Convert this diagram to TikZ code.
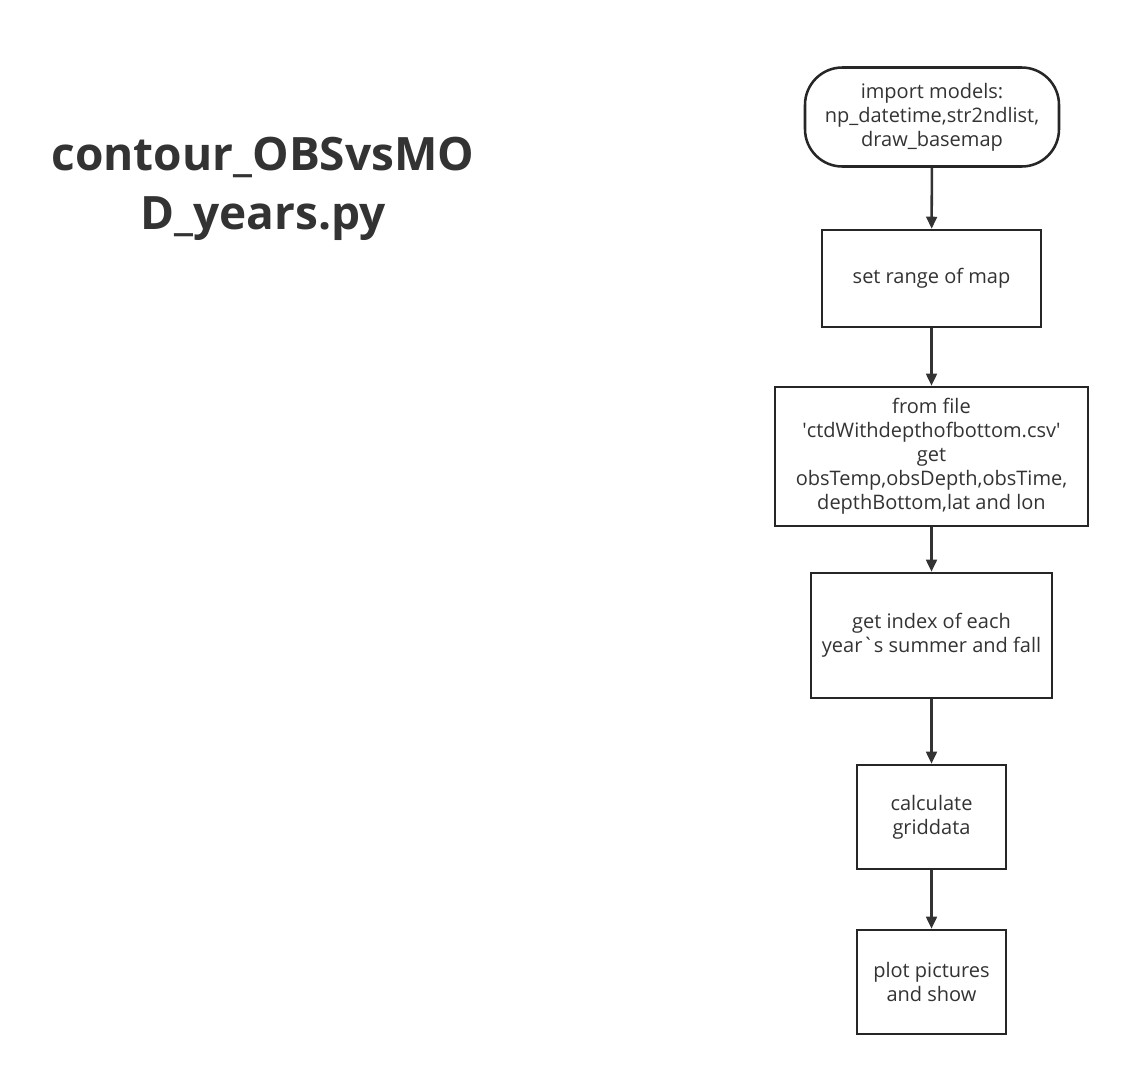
\documentclass[tikz,border=0pt]{standalone}
\usepackage{fontspec}
\setmainfont{Open Sans}
\usetikzlibrary{arrows.meta}
\begin{document}
\begin{tikzpicture}[x=0.75pt,y=-0.75pt,
  box/.style={draw=black!85,line width=1.9pt,align=center,inner sep=0pt,font=\fontsize{15}{18}\selectfont,text=black!80},
  conn/.style={draw=black!80,line width=1.9pt,-{Triangle[length=9pt,width=8pt]}}]
\useasboundingbox[fill=white] (0,0) rectangle (1125,1072);
\node[align=center,font=\fontsize{34.5}{44}\selectfont\bfseries,text=black!80] (title) at (263,189) {contour\_OBSvsMO\\D\_years.py};
\node[box,rounded corners=28pt,minimum width=190.5pt,minimum height=74.25pt] (n1) at (932,117) {import models:\\np\_datetime,str2ndlist,\\draw\_basemap};
\node[box,minimum width=164.25pt,minimum height=72.75pt] (n2) at (931.5,278.5) {set range of map};
\node[box,minimum width=234.75pt,minimum height=104.25pt] (n3) at (931.5,456.5) {from file\\\textquotesingle ctdWithdepthofbottom.csv\textquotesingle\\get\\obsTemp,obsDepth,obsTime,\\depthBottom,lat and lon};
\node[box,minimum width=180.75pt,minimum height=93.75pt] (n4) at (931.5,635.5) {get index of each\\year\textasciigrave s summer and fall};
\node[box,minimum width=111.75pt,minimum height=78pt] (n5) at (931.5,817) {calculate\\griddata};
\node[box,minimum width=111.75pt,minimum height=78pt] (n6) at (931.5,982) {plot pictures\\and show};
\draw[conn] (n1) -- (n2);
\draw[conn] (n2) -- (n3);
\draw[conn] (n3) -- (n4);
\draw[conn] (n4) -- (n5);
\draw[conn] (n5) -- (n6);
\end{tikzpicture}
\end{document}
